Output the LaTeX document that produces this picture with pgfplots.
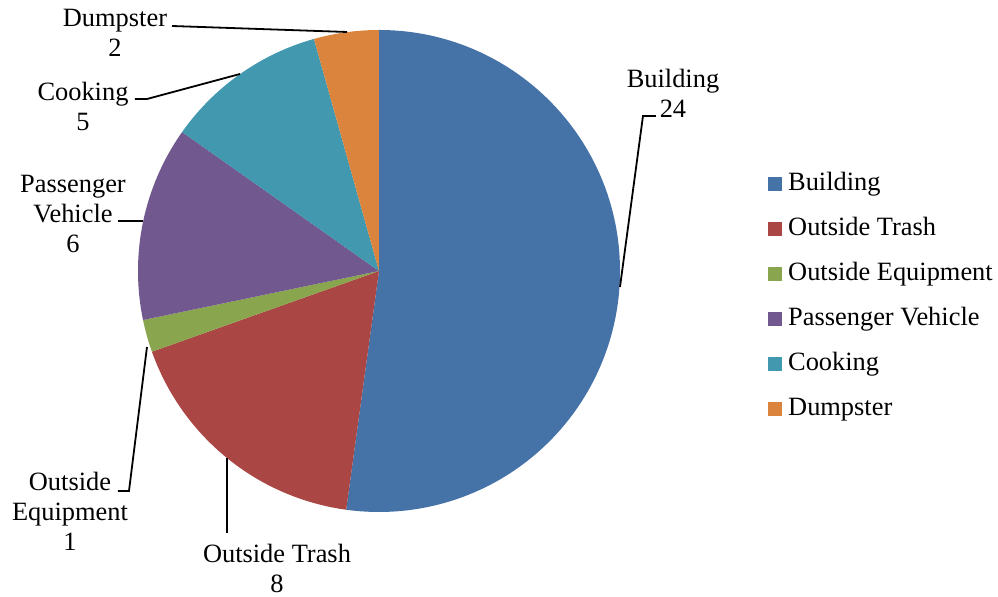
\documentclass[border=0pt]{standalone}
\usepackage{pgfplots}
\pgfplotsset{compat=1.18}
\usepackage{fontspec}
\setmainfont{Liberation Serif}
\definecolor{cBuild}{HTML}{4572A7}
\definecolor{cTrash}{HTML}{AA4643}
\definecolor{cEquip}{HTML}{89A54E}
\definecolor{cVeh}{HTML}{71588F}
\definecolor{cCook}{HTML}{4198AF}
\definecolor{cDump}{HTML}{DB843D}
\begin{document}
\begin{tikzpicture}[font=\fontsize{26.5}{30}\selectfont]
% values
\def\vBuild{24}\def\vTrash{8}\def\vEquip{1}\def\vVeh{6}\def\vCook{5}\def\vDump{2}
\pgfmathsetmacro{\tot}{\vBuild+\vTrash+\vEquip+\vVeh+\vCook+\vDump}
\pgfmathsetmacro{\aA}{90}
\pgfmathsetmacro{\aB}{\aA-360*\vBuild/\tot}
\pgfmathsetmacro{\aC}{\aB-360*\vTrash/\tot}
\pgfmathsetmacro{\aD}{\aC-360*\vEquip/\tot}
\pgfmathsetmacro{\aE}{\aD-360*\vVeh/\tot}
\pgfmathsetmacro{\aF}{\aE-360*\vCook/\tot}
\pgfmathsetmacro{\aG}{\aF-360*\vDump/\tot}
\begin{axis}[
  scale only axis, width=998bp, height=597bp,
  xmin=0, xmax=998, ymin=0, ymax=597,
  hide axis, clip=false,
  legend cell align=left,
  legend image code/.code={\path[#1,draw=none] (0bp,-7bp) rectangle (14bp,7bp);},
  legend style={at={(axis cs:768,425)}, anchor=north west, draw=none, fill=none,
    inner sep=0pt, font=\fontsize{26.5}{30}\selectfont, row sep=21bp,
    nodes={inner sep=0pt, text height=18bp, text depth=6bp},
    /tikz/every odd column/.append style={column sep=6bp}},
]
\addplot[fill=cBuild, draw=none] coordinates {(379,326)} -- ++(\aA:241bp) arc[start angle=\aA, end angle=\aB, radius=241bp] -- cycle;
\addlegendentry{Building}
\addplot[fill=cTrash, draw=none] coordinates {(379,326)} -- ++(\aB:241bp) arc[start angle=\aB, end angle=\aC, radius=241bp] -- cycle;
\addlegendentry{Outside Trash}
\addplot[fill=cEquip, draw=none] coordinates {(379,326)} -- ++(\aC:241bp) arc[start angle=\aC, end angle=\aD, radius=241bp] -- cycle;
\addlegendentry{Outside Equipment}
\addplot[fill=cVeh, draw=none] coordinates {(379,326)} -- ++(\aD:241bp) arc[start angle=\aD, end angle=\aE, radius=241bp] -- cycle;
\addlegendentry{Passenger Vehicle}
\addplot[fill=cCook, draw=none] coordinates {(379,326)} -- ++(\aE:241bp) arc[start angle=\aE, end angle=\aF, radius=241bp] -- cycle;
\addlegendentry{Cooking}
\addplot[fill=cDump, draw=none] coordinates {(379,326)} -- ++(\aF:241bp) arc[start angle=\aF, end angle=\aG, radius=241bp] -- cycle;
\addlegendentry{Dumpster}

% leader lines
\draw[line width=1.8bp] (axis cs:172,571) -- (axis cs:347,565);
\draw[line width=1.8bp] (axis cs:135,498) -- (axis cs:147,498) -- (axis cs:240,523);
\draw[line width=1.8bp] (axis cs:118,376) -- (axis cs:143,376);
\draw[line width=1.8bp] (axis cs:118,106) -- (axis cs:129,106) -- (axis cs:147,250);
\draw[line width=1.8bp] (axis cs:227,139) -- (axis cs:227,64);
\draw[line width=1.8bp] (axis cs:620,310) -- (axis cs:643,481) -- (axis cs:656,481);

% data labels
\node[align=center, anchor=north, inner sep=0pt] at (axis cs:673,528) {Building\\24};
\node[align=center, anchor=north, inner sep=0pt] at (axis cs:115,588) {Dumpster\\2};
\node[align=center, anchor=north, inner sep=0pt] at (axis cs:83,515) {Cooking\\5};
\node[align=center, anchor=north, inner sep=0pt] at (axis cs:73,422) {Passenger\\Vehicle\\6};
\node[align=center, anchor=north, inner sep=0pt] at (axis cs:70,125) {Outside\\Equipment\\1};
\node[align=center, anchor=north, inner sep=0pt] at (axis cs:277,53) {Outside Trash\\8};
\end{axis}
\pgfresetboundingbox
\useasboundingbox (0,0) rectangle (998bp,597bp);
\end{tikzpicture}
\end{document}
